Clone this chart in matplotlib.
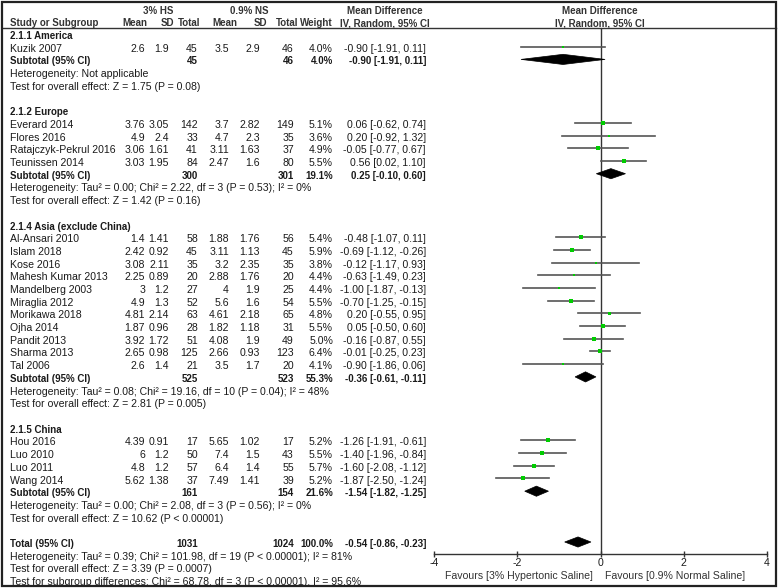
import numpy as np
import matplotlib.pyplot as plt
from matplotlib.patches import Polygon, Rectangle

plt.rcParams['font.family'] = ['Liberation Sans', 'DejaVu Sans']
FS = 7.6
FSB = 7.0   # bold text renders wider, so a touch smaller
TXT = '#1a1a1a'

# ---- data ----
group_names = ["2.1.1 America", "2.1.2 Europe", "2.1.4 Asia (exclude China)", "2.1.5 China"]

studies = ["Kuzik 2007",
           "Everard 2014", "Flores 2016", "Ratajczyk-Pekrul 2016", "Teunissen 2014",
           "Al-Ansari 2010", "Islam 2018", "Kose 2016", "Mahesh Kumar 2013", "Mandelberg 2003",
           "Miraglia 2012", "Morikawa 2018", "Ojha 2014", "Pandit 2013", "Sharma 2013", "Tal 2006",
           "Hou 2016", "Luo 2010", "Luo 2011", "Wang 2014"]
group = [0, 1, 1, 1, 1, 2, 2, 2, 2, 2, 2, 2, 2, 2, 2, 2, 3, 3, 3, 3]
hs_mean = [2.6, 3.76, 4.9, 3.06, 3.03, 1.4, 2.42, 3.08, 2.25, 3, 4.9, 4.81, 1.87, 3.92, 2.65, 2.6,
           4.39, 6, 4.8, 5.62]
hs_sd = [1.9, 3.05, 2.4, 1.61, 1.95, 1.41, 0.92, 2.11, 0.89, 1.2, 1.3, 2.14, 0.96, 1.72, 0.98, 1.4,
         0.91, 1.2, 1.2, 1.38]
hs_n = [45, 142, 33, 41, 84, 58, 45, 35, 20, 27, 52, 63, 28, 51, 125, 21, 17, 50, 57, 37]
ns_mean = [3.5, 3.7, 4.7, 3.11, 2.47, 1.88, 3.11, 3.2, 2.88, 4, 5.6, 4.61, 1.82, 4.08, 2.66, 3.5,
           5.65, 7.4, 6.4, 7.49]
ns_sd = [2.9, 2.82, 2.3, 1.63, 1.6, 1.76, 1.13, 2.35, 1.76, 1.9, 1.6, 2.18, 1.18, 1.9, 0.93, 1.7,
         1.02, 1.5, 1.4, 1.41]
ns_n = [46, 149, 35, 37, 80, 56, 45, 35, 20, 25, 54, 65, 31, 49, 123, 20, 17, 43, 55, 39]
weight = [4.0, 5.1, 3.6, 4.9, 5.5, 5.4, 5.9, 3.8, 4.4, 4.4, 5.5, 4.8, 5.5, 5.0, 6.4, 4.1,
          5.2, 5.5, 5.7, 5.2]
md = [-0.90, 0.06, 0.20, -0.05, 0.56, -0.48, -0.69, -0.12, -0.63, -1.00, -0.70, 0.20, 0.05, -0.16,
      -0.01, -0.90, -1.26, -1.40, -1.60, -1.87]
lo = [-1.91, -0.62, -0.92, -0.77, 0.02, -1.07, -1.12, -1.17, -1.49, -1.87, -1.25, -0.55, -0.50,
      -0.87, -0.25, -1.86, -1.91, -1.96, -2.08, -2.50]
hi = [0.11, 0.74, 1.32, 0.67, 1.10, 0.11, -0.26, 0.93, 0.23, -0.13, -0.15, 0.95, 0.60, 0.55,
      0.23, 0.06, -0.61, -0.84, -1.12, -1.24]

sub_hs_n = [45, 300, 525, 161]
sub_ns_n = [46, 301, 523, 154]
sub_w = [4.0, 19.1, 55.3, 21.6]
sub_md = [-0.90, 0.25, -0.36, -1.54]
sub_lo = [-1.91, -0.10, -0.61, -1.82]
sub_hi = [0.11, 0.60, -0.11, -1.25]
sub_het = ["Heterogeneity: Not applicable",
           "Heterogeneity: Tau² = 0.00; Chi² = 2.22, df = 3 (P = 0.53); I² = 0%",
           "Heterogeneity: Tau² = 0.08; Chi² = 19.16, df = 10 (P = 0.04); I² = 48%",
           "Heterogeneity: Tau² = 0.00; Chi² = 2.08, df = 3 (P = 0.56); I² = 0%"]
sub_test = ["Test for overall effect: Z = 1.75 (P = 0.08)",
            "Test for overall effect: Z = 1.42 (P = 0.16)",
            "Test for overall effect: Z = 2.81 (P = 0.005)",
            "Test for overall effect: Z = 10.62 (P < 0.00001)"]

tot_hs_n, tot_ns_n, tot_w = 1031, 1024, 100.0
tot_md, tot_lo, tot_hi = -0.54, -0.86, -0.23
tot_lines = ["Heterogeneity: Tau² = 0.39; Chi² = 101.98, df = 19 (P < 0.00001); I² = 81%",
             "Test for overall effect: Z = 3.39 (P = 0.0007)",
             "Test for subgroup differences: Chi² = 68.78, df = 3 (P < 0.00001), I² = 95.6%"]

# ---- layout (pixels) ----
W, H = 778, 588
ROW0, ROWH = 34, 12.7
TEXT_DY = 2
X_NAME = 10
X_COLS = [145, 169, 198, 229, 260, 294, 333, 426]  # right edges
AX_L, AX_R, AX_T, AX_B = 434, 767, 28, 554


def ypix(r):
    return ROW0 + ROWH * r


fig = plt.figure(figsize=(W / 100, H / 100), dpi=100)
tab = fig.add_axes([0, 0, 1, 1])
tab.set_xlim(0, W)
tab.set_ylim(H, 0)
tab.axis('off')

ax = fig.add_axes([AX_L / W, (H - AX_B) / H, (AX_R - AX_L) / W, (AX_B - AX_T) / H])
ax.patch.set_visible(False)
ax.set_xlim(-4, 4)
ax.set_ylim((AX_B - ROW0) / ROWH, (AX_T - ROW0) / ROWH)


def txt(x, r, s, ha='left', bold=False):
    tab.text(x, ypix(r) + TEXT_DY, s, ha=ha, va='center', fontsize=FSB if bold else FS,
             color=TXT, fontweight='bold' if bold else 'normal')


def diamond(r, m, a, b):
    h = 0.4
    ax.add_patch(Polygon([(a, r), (m, r - h), (b, r), (m, r + h)], closed=True,
                         fc='black', ec='black', lw=0.5, zorder=4))


# header
hdr = dict(fontsize=FSB, color='#333333', fontweight='bold', va='center')
tab.text(158, 11, "3% HS", ha='center', **hdr)
tab.text(249, 11, "0.9% NS", ha='center', **hdr)
tab.text(385, 11, "Mean Difference", ha='center', **hdr)
tab.text(600, 11, "Mean Difference", ha='center', **hdr)
tab.text(X_NAME, 23, "Study or Subgroup", ha='left', **hdr)
for x, s in zip([147, 174, 200, 237, 267, 298, 333],
                ["Mean", "SD", "Total", "Mean", "SD", "Total", "Weight"]):
    tab.text(x, 23, s, ha='right', **hdr)
tab.text(385, 23, "IV, Random, 95% CI", ha='center', **hdr)
tab.text(600, 23, "IV, Random, 95% CI", ha='center', **hdr)
tab.plot([2, 776], [28, 28], color='#333333', lw=1)

# body
r = 0
for g in range(len(group_names)):
    txt(X_NAME, r, group_names[g], bold=True)
    r += 1
    for i in [k for k in range(len(studies)) if group[k] == g]:
        txt(X_NAME, r, studies[i])
        vals = [f"{hs_mean[i]:g}", f"{hs_sd[i]:g}", str(hs_n[i]),
                f"{ns_mean[i]:g}", f"{ns_sd[i]:g}", str(ns_n[i]),
                f"{weight[i]:.1f}%", f"{md[i]:.2f} [{lo[i]:.2f}, {hi[i]:.2f}]"]
        for x, s in zip(X_COLS, vals):
            txt(x, r, s, ha='right')
        ax.plot([lo[i], hi[i]], [r, r], color='#555555', lw=1.2, zorder=2)
        ax.plot(md[i], r, 's', color='#00cc00', ms=weight[i] * 0.45, mew=0, zorder=3)
        r += 1
    txt(X_NAME, r, "Subtotal (95% CI)", bold=True)
    txt(X_COLS[2], r, str(sub_hs_n[g]), ha='right', bold=True)
    txt(X_COLS[5], r, str(sub_ns_n[g]), ha='right', bold=True)
    txt(X_COLS[6], r, f"{sub_w[g]:.1f}%", ha='right', bold=True)
    txt(X_COLS[7], r, f"{sub_md[g]:.2f} [{sub_lo[g]:.2f}, {sub_hi[g]:.2f}]", ha='right', bold=True)
    diamond(r, sub_md[g], sub_lo[g], sub_hi[g])
    r += 1
    txt(X_NAME, r, sub_het[g])
    r += 1
    txt(X_NAME, r, sub_test[g])
    r += 2

txt(X_NAME, r, "Total (95% CI)", bold=True)
txt(X_COLS[2], r, str(tot_hs_n), ha='right', bold=True)
txt(X_COLS[5], r, str(tot_ns_n), ha='right', bold=True)
txt(X_COLS[6], r, f"{tot_w:.1f}%", ha='right', bold=True)
txt(X_COLS[7], r, f"{tot_md:.2f} [{tot_lo:.2f}, {tot_hi:.2f}]", ha='right', bold=True)
diamond(r, tot_md, tot_lo, tot_hi)
for line in tot_lines:
    r += 1
    txt(X_NAME, r, line)

# forest axis
ax.axvline(0, color='#333333', lw=1, zorder=1)
for s in ['top', 'right', 'left']:
    ax.spines[s].set_visible(False)
ax.spines['bottom'].set_color('#333333')
ax.spines['bottom'].set_linewidth(1)
ax.set_yticks([])
ax.set_xticks([-4, -2, 0, 2, 4])
ax.set_xticklabels(['-4', '-2', '0', '2', '4'])
ax.tick_params(axis='x', direction='inout', length=5, width=1, color='#333333',
               labelsize=FS, labelcolor=TXT, pad=0.5)
tab.text(593, 576, "Favours [3% Hypertonic Saline]", ha='right', va='center', fontsize=FS, color='#333333')
tab.text(605, 576, "Favours [0.9% Normal Saline]", ha='left', va='center', fontsize=FS, color='#333333')

# frame
tab.add_patch(Rectangle((2, 2), 774, 584, fill=False, ec='#222222', lw=1.6, zorder=10))

fig.savefig('out.png', dpi=100)
